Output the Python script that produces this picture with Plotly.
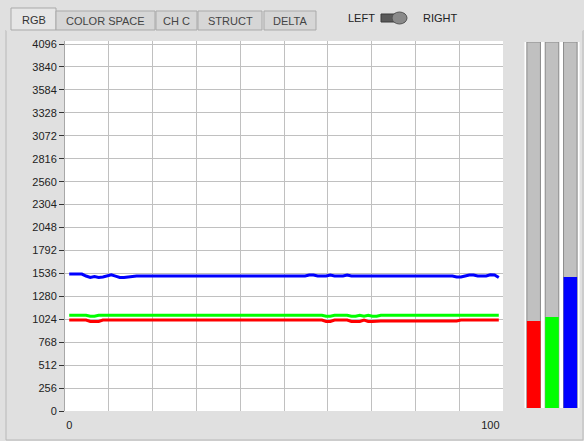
import plotly.graph_objects as go

W, H = 584, 441

# ---------------- data ----------------
x_vals = list(range(0, 103))

blue_vals = ([1529, 1529, 1529, 1529, 1507, 1490, 1500, 1490, 1495, 1510, 1520, 1505, 1490, 1490, 1495]
             + [1507] * 42                      # x 15..56
             + [1518, 1518]                     # x 57, 58
             + [1507] * 3                       # 59..61
             + [1518]                           # 62
             + [1507] * 3                       # 63..65
             + [1518]                           # 66
             + [1507] * 25                      # 67..91
             + [1495, 1495, 1507, 1518, 1518]   # 92..96
             + [1507] * 3                       # 97..99
             + [1520, 1518, 1490])              # 100..102

green_vals = ([1068] * 5 + [1057, 1057] + [1068] * 54            # 0..60
              + [1057, 1057] + [1068] * 4 + [1057, 1057, 1068]    # 61..69
              + [1057, 1068, 1057, 1057] + [1068] * 29)           # 70..102

red_vals = ([1016] * 5 + [1000, 1000, 1000] + [1016] * 53         # 0..60
            + [1000, 1000] + [1016] * 4 + [1000, 1000, 1000]      # 61..69
            + [1016, 1000, 1000] + [1005] * 20 + [1016] * 10)     # 70..102

gauge_names = ["Red", "Green", "Blue"]
gauge_vals = [975, 1018, 1466]
gauge_colors = ["#ff0000", "#00ff00", "#0000ff"]

y_tick_vals = list(range(0, 4097, 256))
y_tick_text = [str(v) for v in y_tick_vals]
x_tick_vals = [0, 100]
x_tick_text = ["0", "100"]
x_grid_step = 10.4

tab_labels = ["RGB", "COLOR SPACE", "CH C", "STRUCT", "DELTA"]
switch_labels = ["LEFT", "RIGHT"]

# ---------------- helpers ----------------
def px(x):
    return x / W

def py(y):
    return 1 - y / H

FONT = "Liberation Sans, Arial, sans-serif"
BG = "#e0e0e0"
GRID = "#c0c0c0"

fig = go.Figure()

fig.add_trace(go.Scatter(x=x_vals, y=red_vals, mode="lines",
                         line=dict(color="#ff0000", width=3),
                         xaxis="x", yaxis="y", showlegend=False))
fig.add_trace(go.Scatter(x=x_vals, y=green_vals, mode="lines",
                         line=dict(color="#00ff00", width=3),
                         xaxis="x", yaxis="y", showlegend=False))
fig.add_trace(go.Scatter(x=x_vals, y=blue_vals, mode="lines",
                         line=dict(color="#0000ff", width=3),
                         xaxis="x", yaxis="y", showlegend=False))
# invisible trace to activate the grid axis
fig.add_trace(go.Scatter(x=[0], y=[0], mode="markers", marker=dict(opacity=0),
                         xaxis="x2", yaxis="y", showlegend=False, hoverinfo="skip"))

# gauges: gray background then coloured value
fig.add_trace(go.Bar(x=[0, 1, 2], y=[4096] * 3, width=0.74,
                     marker=dict(color="#c0c0c0", line=dict(color="#8a8a8a", width=1)),
                     xaxis="x3", yaxis="y3", showlegend=False, hoverinfo="skip"))
fig.add_trace(go.Bar(x=[0, 1, 2], y=gauge_vals, width=0.74,
                     marker=dict(color=gauge_colors, line=dict(width=0)),
                     hovertext=gauge_names,
                     xaxis="x3", yaxis="y3", showlegend=False))

plot_x0, plot_x1 = 65, 503
plot_top, plot_bot = 41, 411

fig.update_layout(
    template="none",
    width=W, height=H,
    margin=dict(l=0, r=0, t=0, b=0, pad=0, autoexpand=False),
    paper_bgcolor=BG,
    plot_bgcolor="white",
    barmode="overlay",
    font=dict(family=FONT, size=11, color="#222222"),
    xaxis=dict(domain=[px(plot_x0), px(plot_x1)], range=[-1, 103], automargin=False,
               tickvals=x_tick_vals, ticktext=x_tick_text,
               showgrid=False, zeroline=False, showline=False,
               ticks="outside", ticklen=4, tickcolor="rgba(0,0,0,0)",
               tickfont=dict(size=11, color="#222222"), fixedrange=True),
    xaxis2=dict(overlaying="x", range=[-1, 103], tick0=-1, dtick=x_grid_step, automargin=False,
                showgrid=True, gridcolor=GRID, gridwidth=1,
                showticklabels=False, zeroline=False, showline=False, ticks=""),
    yaxis=dict(domain=[py(plot_bot), py(plot_top)], range=[0, 4130], automargin=False,
               tickvals=y_tick_vals, ticktext=y_tick_text,
               showgrid=True, gridcolor=GRID, gridwidth=1,
               zeroline=False, showline=True, linecolor="#a8a8a8", linewidth=1,
               ticks="outside", ticklen=5, tickcolor="#333333", tickwidth=1,
               tickfont=dict(size=11, color="#222222")),
    xaxis3=dict(domain=[px(524.5), px(579.5)], range=[-0.5, 2.5], anchor="y3", automargin=False,
                showgrid=False, zeroline=False, showline=False,
                showticklabels=False, ticks=""),
    yaxis3=dict(domain=[py(408), py(42)], range=[0, 4096], anchor="x3", automargin=False,
                showgrid=False, zeroline=False, showline=False,
                showticklabels=False, ticks=""),
)

shapes = []
annotations = []

# panel border
shapes.append(dict(type="rect", xref="paper", yref="paper",
                   x0=px(6), x1=px(583), y0=py(440), y1=py(30),
                   line=dict(color="#b8b8b8", width=1), fillcolor="rgba(0,0,0,0)", layer="below"))
shapes.append(dict(type="line", xref="paper", yref="paper",
                   x0=px(6), x1=px(583), y0=py(30), y1=py(30),
                   line=dict(color="#f4f4f4", width=1)))

# tabs
tab_bounds = [(11, 56), (56, 155), (156, 197), (198, 262), (264, 316)]
for i, (lab, (a, b)) in enumerate(zip(tab_labels, tab_bounds)):
    sel = i == 0
    top = 8 if sel else 11
    shapes.append(dict(type="rect", xref="paper", yref="paper",
                       x0=px(a), x1=px(b), y0=py(30), y1=py(top),
                       fillcolor="#e6e6e6" if sel else "#d6d6d6",
                       line=dict(color="#a9a9a9", width=1)))
    annotations.append(dict(text=lab, xref="paper", yref="paper",
                            x=px((a + b) / 2), y=py(20 if sel else 21),
                            showarrow=False, xanchor="center", yanchor="middle",
                            font=dict(size=11, color="#333333" if sel else "#444444")))

# switch
annotations.append(dict(text=switch_labels[0], xref="paper", yref="paper",
                        x=px(361), y=py(18), showarrow=False,
                        xanchor="center", yanchor="middle",
                        font=dict(size=11, color="#222222")))
annotations.append(dict(text=switch_labels[1], xref="paper", yref="paper",
                        x=px(440), y=py(18), showarrow=False,
                        xanchor="center", yanchor="middle",
                        font=dict(size=11, color="#222222")))
shapes.append(dict(type="rect", xref="paper", yref="paper",
                   x0=px(381), x1=px(405), y0=py(22), y1=py(14),
                   fillcolor="#5a5a5a", line=dict(color="#3a3a3a", width=1)))
shapes.append(dict(type="circle", xref="paper", yref="paper",
                   x0=px(392), x1=px(407), y0=py(24), y1=py(12),
                   fillcolor="#8a8a8a", line=dict(color="#555555", width=1)))

fig.update_layout(shapes=shapes, annotations=annotations)

fig.write_html("out.html",
               config=dict(displayModeBar=False, responsive=False),
               post_script="document.body.style.margin='0';document.body.style.overflow='hidden';")
